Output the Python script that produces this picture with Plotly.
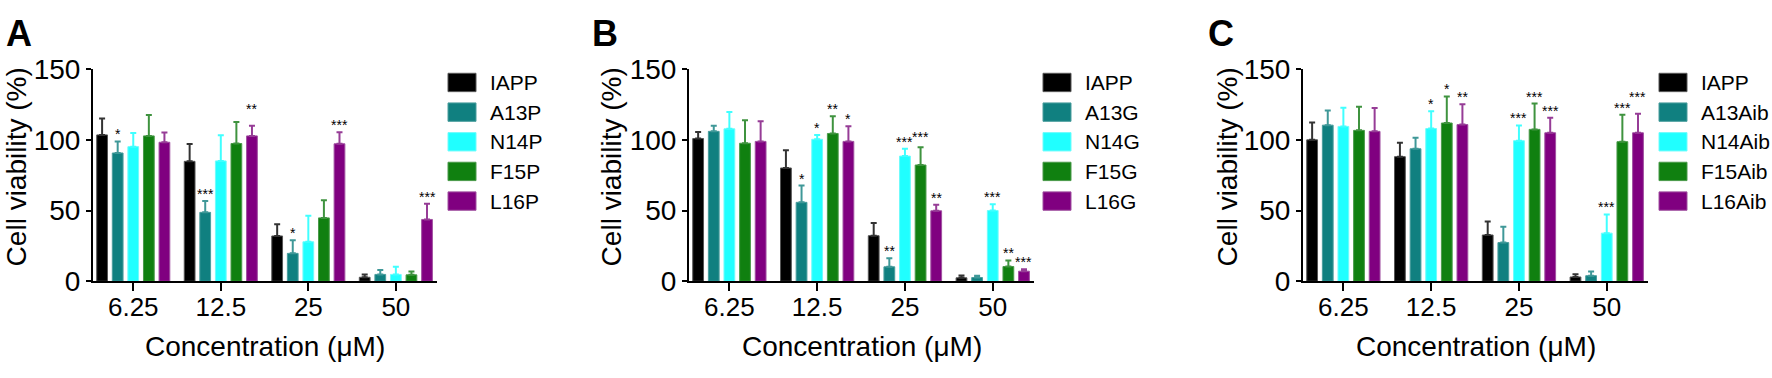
import plotly.graph_objects as go

W, H = 1772, 378
FONT = "Arial, Liberation Sans, sans-serif"

concentrations = ["6.25", "12.5", "25", "50"]
colors = ["#000000", "#108080", "#20ffff", "#108010", "#800080"]
err_colors = ["#333333", "#3f9898", "#40ffff", "#3f933f", "#963c96"]
edge_colors = ["#555555", "#4a9d9d", "#6ffcfc", "#4a9a4a", "#a050a0"]

# ---------- Panel A ----------
names_A = ["IAPP", "A13P", "N14P", "F15P", "L16P"]
IAPP_A = [103.5, 84.8, 32.0, 2.8]
IAPP_A_sd = [11.6, 12.2, 8.3, 2.0]
A13P = [90.7, 48.7, 19.7, 4.8]
A13P_sd = [8.2, 8.0, 9.3, 3.2]
N14P = [95.2, 85.1, 27.9, 4.8]
N14P_sd = [9.6, 18.1, 18.4, 5.4]
F15P = [102.8, 97.4, 44.8, 4.5]
F15P_sd = [14.7, 15.2, 12.5, 2.4]
L16P = [98.3, 102.8, 97.2, 43.7]
L16P_sd = [6.9, 7.2, 8.2, 11.1]
stars_A = [["", "", "", ""], ["*", "***", "*", ""], ["", "", "", ""],
           ["", "", "", ""], ["", "**", "***", "***"]]

# ---------- Panel B ----------
names_B = ["IAPP", "A13G", "N14G", "F15G", "L16G"]
IAPP_B = [100.9, 80.1, 32.2, 2.4]
IAPP_B_sd = [4.7, 12.5, 8.9, 1.7]
A13G = [106.0, 55.8, 10.2, 2.6]
A13G_sd = [4.0, 11.9, 6.0, 1.3]
N14G = [107.8, 100.4, 88.5, 50.0]
N14G_sd = [11.9, 3.0, 5.2, 4.5]
F15G = [97.6, 104.5, 82.2, 10.4]
F15G_sd = [16.3, 12.2, 12.6, 4.3]
L16G = [98.9, 98.9, 49.8, 7.1]
L16G_sd = [14.3, 10.8, 4.3, 1.3]
stars_B = [["", "", "", ""], ["", "*", "**", ""], ["", "*", "***", "***"],
           ["", "**", "***", "**"], ["", "*", "**", "***"]]

# ---------- Panel C ----------
names_C = ["IAPP", "A13Aib", "N14Aib", "F15Aib", "L16Aib"]
IAPP_C = [100.0, 88.1, 32.7, 3.0]
IAPP_C_sd = [12.3, 9.9, 9.5, 2.0]
A13Aib = [110.4, 93.7, 27.3, 3.9]
A13Aib_sd = [10.4, 7.8, 11.2, 3.0]
N14Aib = [109.5, 108.0, 99.4, 34.0]
N14Aib_sd = [13.2, 12.3, 10.8, 13.2]
F15Aib = [106.7, 111.9, 107.4, 98.7]
F15Aib_sd = [16.7, 18.8, 18.3, 19.0]
L16Aib = [106.0, 110.8, 105.0, 105.0]
L16Aib_sd = [16.5, 14.3, 10.6, 13.4]
stars_C = [["", "", "", ""], ["", "", "", ""], ["", "*", "***", "***"],
           ["", "*", "***", "***"], ["", "**", "***", "***"]]

# extra lift (data units) for a few raised significance labels: (panel, series, group)
star_lift = {(0, 4, 1): 7.0, (1, 3, 2): 2.5, (2, 4, 3): 7.0}

panels = [
    dict(letter="A", names=names_A,
         means=[IAPP_A, A13P, N14P, F15P, L16P],
         sds=[IAPP_A_sd, A13P_sd, N14P_sd, F15P_sd, L16P_sd],
         stars=stars_A, px=(93, 437), letter_x=4, ytitle_x=16, leg_x=448),
    dict(letter="B", names=names_B,
         means=[IAPP_B, A13G, N14G, F15G, L16G],
         sds=[IAPP_B_sd, A13G_sd, N14G_sd, F15G_sd, L16G_sd],
         stars=stars_B, px=(689, 1034), letter_x=590, ytitle_x=611, leg_x=1043),
    dict(letter="C", names=names_C,
         means=[IAPP_C, A13Aib, N14Aib, F15Aib, L16Aib],
         sds=[IAPP_C_sd, A13Aib_sd, N14Aib_sd, F15Aib_sd, L16Aib_sd],
         stars=stars_C, px=(1303, 1648), letter_x=1206, ytitle_x=1227, leg_x=1659),
]

PLOT_TOP, PLOT_BOT = 59, 290
BARGAP, BARGROUPGAP = 0.11, 0.31
XRANGE = [-0.46, 3.47]

fig = go.Figure()
annotations = []
shapes = []
xpos = list(range(len(concentrations)))
slot = (1 - BARGAP) / 5

for p, P in enumerate(panels):
    sfx = "" if p == 0 else str(p + 1)
    for i, name in enumerate(P["names"]):
        fig.add_trace(go.Bar(
            x=xpos, y=P["means"][i], name=name,
            xaxis="x" + sfx, yaxis="y" + sfx,
            offsetgroup=str(i),
            marker=dict(color=colors[i], line=dict(color=edge_colors[i], width=1)),
            error_y=dict(type="data", array=P["sds"][i], symmetric=False,
                         arrayminus=[0] * 4, color=err_colors[i],
                         thickness=2, width=3),
            showlegend=False,
        ))
        # significance stars
        for g in range(len(concentrations)):
            s = P["stars"][i][g]
            if s:
                top = P["means"][i][g] + P["sds"][i][g] + star_lift.get((p, i, g), 0.0)
                annotations.append(dict(
                    x=g + (i - 2) * slot, y=top, xref="x" + sfx, yref="y" + sfx,
                    text=s, showarrow=False, xanchor="center", yanchor="bottom",
                    yshift=-3, font=dict(family=FONT, size=14, color="#000000")))
        # legend swatch + label
        cy = 73.5 + 32.3 * i
        shapes.append(dict(type="rect", xref="paper", yref="paper",
                           x0=P["leg_x"] / W, x1=(P["leg_x"] + 28) / W,
                           y0=1 - (cy + 10) / H, y1=1 - (cy - 10) / H,
                           fillcolor=colors[i], line=dict(color=edge_colors[i], width=1)))
        annotations.append(dict(x=(P["leg_x"] + 40) / W, y=1 - cy / H, xref="paper",
                                yref="paper", text=name, showarrow=False,
                                xanchor="left", yanchor="middle",
                                font=dict(family=FONT, size=21, color="#000000")))

    x0, x1 = P["px"]
    dom = [x0 / W, x1 / W]
    fig.update_layout({
        "xaxis" + sfx: dict(domain=dom, anchor="y" + sfx, range=XRANGE,
                            tickvals=xpos, ticktext=concentrations,
                            showline=True, linewidth=2, linecolor="#000000",
                            ticks="outside", ticklen=8, tickwidth=2, tickcolor="#000000",
                            ticklabelstandoff=-6,
                            showgrid=False, zeroline=False,
                            tickfont=dict(family=FONT, size=26, color="#000000")),
        "yaxis" + sfx: dict(domain=[1 - PLOT_BOT / H, 1 - PLOT_TOP / H],
                            anchor="x" + sfx, range=[0, 150],
                            tickvals=[0, 50, 100, 150],
                            showline=True, linewidth=2, linecolor="#000000",
                            ticks="outside", ticklen=5, tickwidth=2, tickcolor="#000000",
                            showgrid=False, zeroline=False,
                            tickfont=dict(family=FONT, size=28, color="#000000")),
    })
    # panel letter
    annotations.append(dict(x=P["letter_x"] / W, y=1 - 20 / H, xref="paper", yref="paper",
                            text="<b>" + P["letter"] + "</b>", showarrow=False,
                            xanchor="left", yanchor="middle",
                            font=dict(family=FONT, size=36, color="#000000")))
    # y title
    annotations.append(dict(x=P["ytitle_x"] / W, y=1 - 166 / H, xref="paper", yref="paper",
                            text="Cell viability (%)", textangle=-90, showarrow=False,
                            xanchor="center", yanchor="middle",
                            font=dict(family=FONT, size=28, color="#000000")))
    # x title
    annotations.append(dict(x=(x0 + x1) / 2 / W, y=1 - 361 / H, xref="paper", yref="paper",
                            text="Concentration (μM)", showarrow=False,
                            xanchor="center", yanchor="middle",
                            font=dict(family=FONT, size=28, color="#000000")))

fig.update_layout(
    width=W, height=H, autosize=False,
    margin=dict(l=0, r=0, t=0, b=0),
    paper_bgcolor="#ffffff", plot_bgcolor="#ffffff",
    barmode="group", bargap=BARGAP, bargroupgap=BARGROUPGAP,
    showlegend=False,
    annotations=annotations, shapes=shapes,
    font=dict(family=FONT, color="#000000"),
)

fig.write_html(
    "out.html",
    config={"displayModeBar": False},
    post_script="document.body.style.margin='0';document.body.style.padding='0';"
                "document.body.style.overflow='hidden';",
)
